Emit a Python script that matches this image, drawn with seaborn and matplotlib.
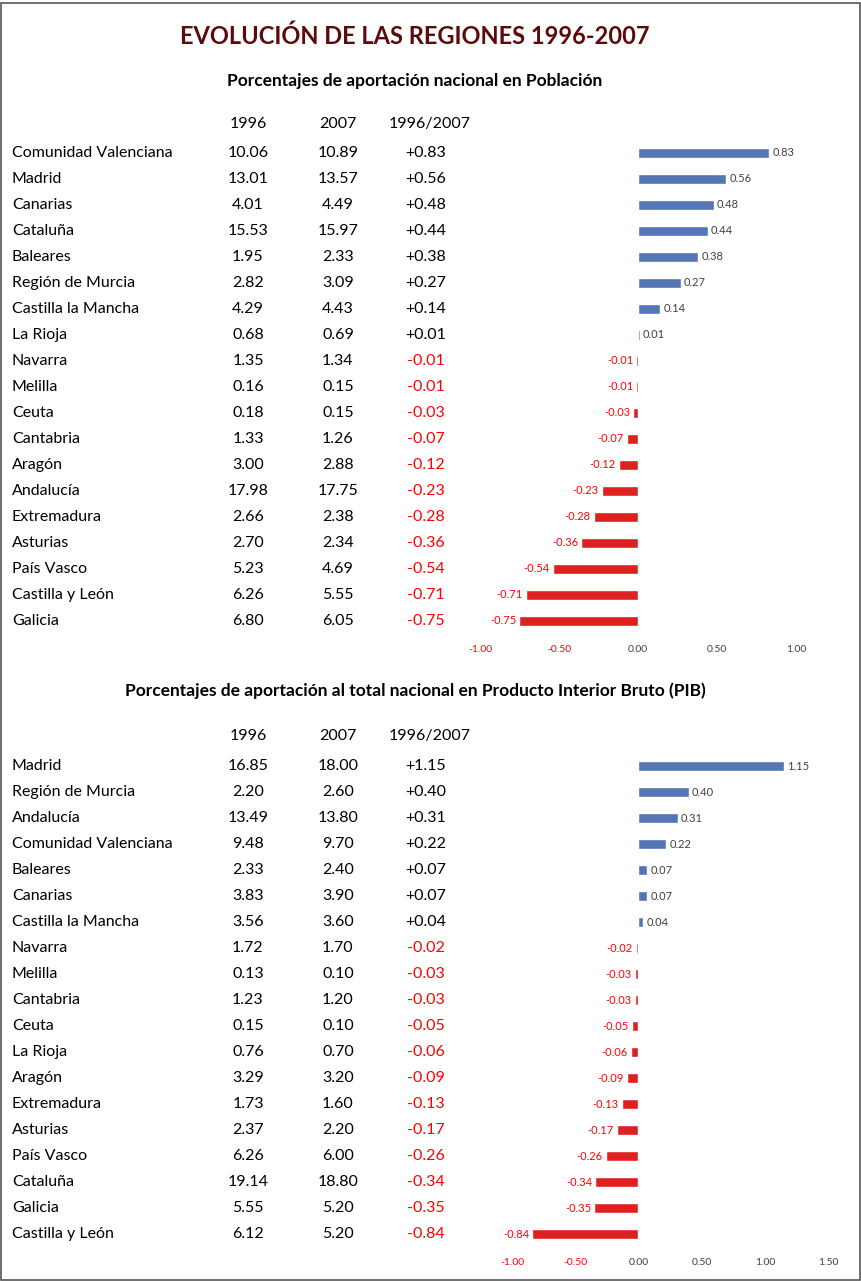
import matplotlib
matplotlib.use("Agg")
import matplotlib.pyplot as plt
import seaborn as sns
import pandas as pd

sns.set_theme(style="white")
plt.rcParams['font.family'] = ['Lato', 'DejaVu Sans']

pob_regions = ["Comunidad Valenciana","Madrid","Canarias","Cataluña","Baleares","Región de Murcia",
    "Castilla la Mancha","La Rioja","Navarra","Melilla","Ceuta","Cantabria","Aragón","Andalucía",
    "Extremadura","Asturias","País Vasco","Castilla y León","Galicia"]
pob_1996 = [10.06,13.01,4.01,15.53,1.95,2.82,4.29,0.68,1.35,0.16,0.18,1.33,3.00,17.98,2.66,2.70,5.23,6.26,6.80]
pob_2007 = [10.89,13.57,4.49,15.97,2.33,3.09,4.43,0.69,1.34,0.15,0.15,1.26,2.88,17.75,2.38,2.34,4.69,5.55,6.05]
pob_diff = [0.83,0.56,0.48,0.44,0.38,0.27,0.14,0.01,-0.01,-0.01,-0.03,-0.07,-0.12,-0.23,-0.28,-0.36,-0.54,-0.71,-0.75]

pib_regions = ["Madrid","Región de Murcia","Andalucía","Comunidad Valenciana","Baleares","Canarias",
    "Castilla la Mancha","Navarra","Melilla","Cantabria","Ceuta","La Rioja","Aragón","Extremadura",
    "Asturias","País Vasco","Cataluña","Galicia","Castilla y León"]
pib_1996 = [16.85,2.20,13.49,9.48,2.33,3.83,3.56,1.72,0.13,1.23,0.15,0.76,3.29,1.73,2.37,6.26,19.14,5.55,6.12]
pib_2007 = [18.00,2.60,13.80,9.70,2.40,3.90,3.60,1.70,0.10,1.20,0.10,0.70,3.20,1.60,2.20,6.00,18.80,5.20,5.20]
pib_diff = [1.15,0.40,0.31,0.22,0.07,0.07,0.04,-0.02,-0.03,-0.03,-0.05,-0.06,-0.09,-0.13,-0.17,-0.26,-0.34,-0.35,-0.84]

W, H = 862, 1281
BLUE, RED = "#4472C4", "#FF0000"
fig = plt.figure(figsize=(W/100, H/100), dpi=100)

def T(x, y, s, **kw):
    fig.text(x/W, 1-y/H, s, **kw)

T(415, 36, "EVOLUCIÓN DE LAS REGIONES 1996-2007", ha="center", va="center",
  fontsize=17, fontweight="bold", color="#5C0A0A")

def block(regions, v96, v07, diff, sub_y, sub, head_y, row0, step, ax_px, ticks):
    T(415, sub_y, sub, ha="center", va="center", fontsize=12.5, fontweight="bold", color="black")
    for x, s in [(248, "1996"), (338, "2007"), (430, "1996/2007")]:
        T(x, head_y, s, ha="center", va="center", fontsize=11.5, color="black")
    for i, r in enumerate(regions):
        y = row0 + step*i
        T(12, y, r, ha="left", va="center", fontsize=11.5, color="black")
        T(248, y, f"{v96[i]:.2f}", ha="center", va="center", fontsize=11.5, color="black")
        T(338, y, f"{v07[i]:.2f}", ha="center", va="center", fontsize=11.5, color="black")
        d = diff[i]
        T(426, y, f"{d:+.2f}", ha="center", va="center", fontsize=11.5,
          color="black" if d > 0 else RED)
    x0, x1, xmin, xmax = ax_px
    n = len(regions)
    top = row0 - step/2
    ax = fig.add_axes([x0/W, 1-(top+n*step)/H, (x1-x0)/W, n*step/H])
    df = pd.DataFrame({"r": regions, "d": diff})
    cols = [BLUE if d > 0 else RED for d in diff]
    sns.barplot(data=df, x="d", y="r", hue="r", palette=cols, legend=False,
                orient="h", width=0.42, ax=ax)
    ax.set_xlim(xmin, xmax)
    for i, d in enumerate(diff):
        if d > 0:
            ax.text(d + 0.02*(xmax-xmin)/2, i, f"{d:.2f}", va="center", ha="left", fontsize=8, color="#404040")
        else:
            ax.text(d - 0.02*(xmax-xmin)/2, i, f"{d:.2f}", va="center", ha="right", fontsize=8, color=RED)
    ax.set_yticks([])
    ax.set_xlabel(""); ax.set_ylabel("")
    ax.set_xticks(ticks)
    ax.set_xticklabels([f"{t:.2f}" for t in ticks], fontsize=7.5)
    for lbl, t in zip(ax.get_xticklabels(), ticks):
        lbl.set_color(RED if t < 0 else "#404040")
    ax.tick_params(axis="x", length=0, pad=8)
    for s in ax.spines.values():
        s.set_visible(False)
    ax.patch.set_alpha(0)

block(pob_regions, pob_1996, pob_2007, pob_diff, 81, "Porcentajes de aportación nacional en Población",
      124, 153, 26.0, (480, 796, -1.0, 1.0), [-1.0, -0.5, 0.0, 0.5, 1.0])
block(pib_regions, pib_1996, pib_2007, pib_diff, 691,
      "Porcentajes de aportación al total nacional en Producto Interior Bruto (PIB)",
      736, 766, 26.0, (512, 828, -1.0, 1.5), [-1.0, -0.5, 0.0, 0.5, 1.0, 1.5])

fig.add_artist(plt.Rectangle((0.001, 0.001), 0.997, 0.997, transform=fig.transFigure,
                             fill=False, edgecolor="#555555", linewidth=1.2))
fig.savefig("out.png", dpi=100)
